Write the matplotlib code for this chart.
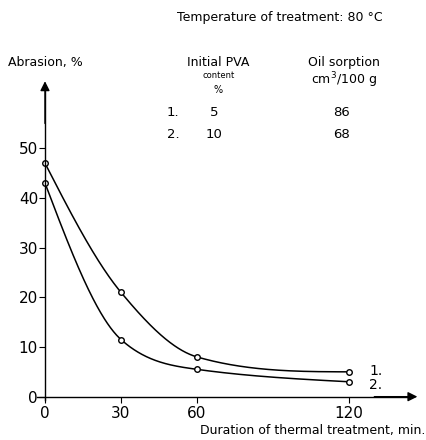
import numpy as np
import matplotlib
matplotlib.use("Agg")
import matplotlib.pyplot as plt

# duration of thermal treatment, min
duration = [0, 30, 60, 120]
# abrasion, % for the two samples
abrasion_1 = [47, 21, 8, 5]
abrasion_2 = [43, 11.5, 5.5, 3]

pva_content = ["5", "10"]
oil_sorption = ["86", "68"]
curve_labels = ["1.", "2."]

x_ticks = [0, 30, 60, 120]
y_ticks = [0, 10, 20, 30, 40, 50]


def smooth(x, y, n=400):
    # convex cubic hermite through the points, only used to draw the smooth line
    x = np.asarray(x, float)
    y = np.asarray(y, float)
    h = np.diff(x)
    d = np.diff(y) / h
    m = np.zeros_like(y)
    for k in range(1, len(x) - 1):
        m[k] = -np.sqrt(d[k - 1] * d[k])
    for k in range(1, len(x) - 1):
        m[k] = max(m[k], (3 * d[k - 1] - m[k - 1]) / 2)
    m[0] = 1.5 * d[0] - 0.5 * m[1]
    m[-1] = 1.5 * d[-1] - 0.5 * m[-2]
    xs = np.linspace(x[0], x[-1], n)
    idx = np.clip(np.searchsorted(x, xs) - 1, 0, len(x) - 2)
    t = (xs - x[idx]) / h[idx]
    h00 = 2 * t**3 - 3 * t**2 + 1
    h10 = t**3 - 2 * t**2 + t
    h01 = -2 * t**3 + 3 * t**2
    h11 = t**3 - t**2
    ys = h00 * y[idx] + h10 * h[idx] * m[idx] + h01 * y[idx + 1] + h11 * h[idx] * m[idx + 1]
    return xs, ys


fig = plt.figure(figsize=(4.26, 4.40), dpi=100)
ax = fig.add_axes([0, 0, 1, 1])
ax.set_xlim(-17.76, 150.4)
ax.set_ylim(-8.72, 79.85)
ax.patch.set_visible(False)

for sp in ["top", "right"]:
    ax.spines[sp].set_visible(False)
ax.spines["left"].set_position(("data", 0))
ax.spines["bottom"].set_position(("data", 0))
ax.spines["left"].set_bounds(-0.7, 62)
ax.spines["bottom"].set_bounds(-3, 145)
ax.spines["left"].set_linewidth(1.0)
ax.spines["bottom"].set_linewidth(1.0)

ax.set_xticks(x_ticks)
ax.set_yticks(y_ticks)
ax.tick_params(direction="out", length=4, width=0.8, labelsize=11, pad=1)
ax.tick_params(axis="x", pad=3)

# axis arrows
arrow = dict(arrowstyle="-|>", lw=1.0, color="black", mutation_scale=14, shrinkA=0, shrinkB=0)
ax.annotate("", xy=(0, 63.5), xytext=(0, 55), arrowprops=arrow)
ax.annotate("", xy=(147, 0), xytext=(130, 0), arrowprops=arrow)

for ys in [abrasion_1, abrasion_2]:
    sx, sy = smooth(duration, ys)
    ax.plot(sx, sy, color="black", lw=1.1)
    ax.plot(duration, ys, "o", ms=4, mfc="white", mec="black", mew=1.0)

ax.text(128, 5.2, curve_labels[0], fontsize=10, va="center")
ax.text(128, 2.3, curve_labels[1], fontsize=10, va="center")

fs = 9
ax.text(-14.6, 67.3, "Abrasion, %", fontsize=fs, va="center", ha="left")
ax.text(92.5, 76.3, "Temperature of treatment: 80 °C", fontsize=fs, ha="center", va="center")
ax.text(68.5, 67.3, "Initial PVA", fontsize=fs, ha="center", va="center")
ax.text(68.5, 64.75, "content", fontsize=6, ha="center", va="center")
ax.text(68.5, 61.7, "%", fontsize=7, ha="center", va="center")
ax.text(118, 67.3, "Oil sorption", fontsize=fs, ha="center", va="center")
ax.text(118, 63.7, "cm$^3$/100 g", fontsize=fs, ha="center", va="center")

row_y = [57.3, 52.7]
for yy, lab, pva, oil in zip(row_y, curve_labels, pva_content, oil_sorption):
    ax.text(50.5, yy, lab, fontsize=fs + 0.5, ha="center", va="center")
    ax.text(66.7, yy, pva, fontsize=fs + 0.5, ha="center", va="center")
    ax.text(117.2, yy, oil, fontsize=fs + 0.5, ha="center", va="center")

ax.text(105.8, -6.8, "Duration of thermal treatment, min.", fontsize=fs, ha="center", va="center")

fig.savefig("out.png", dpi=100)
